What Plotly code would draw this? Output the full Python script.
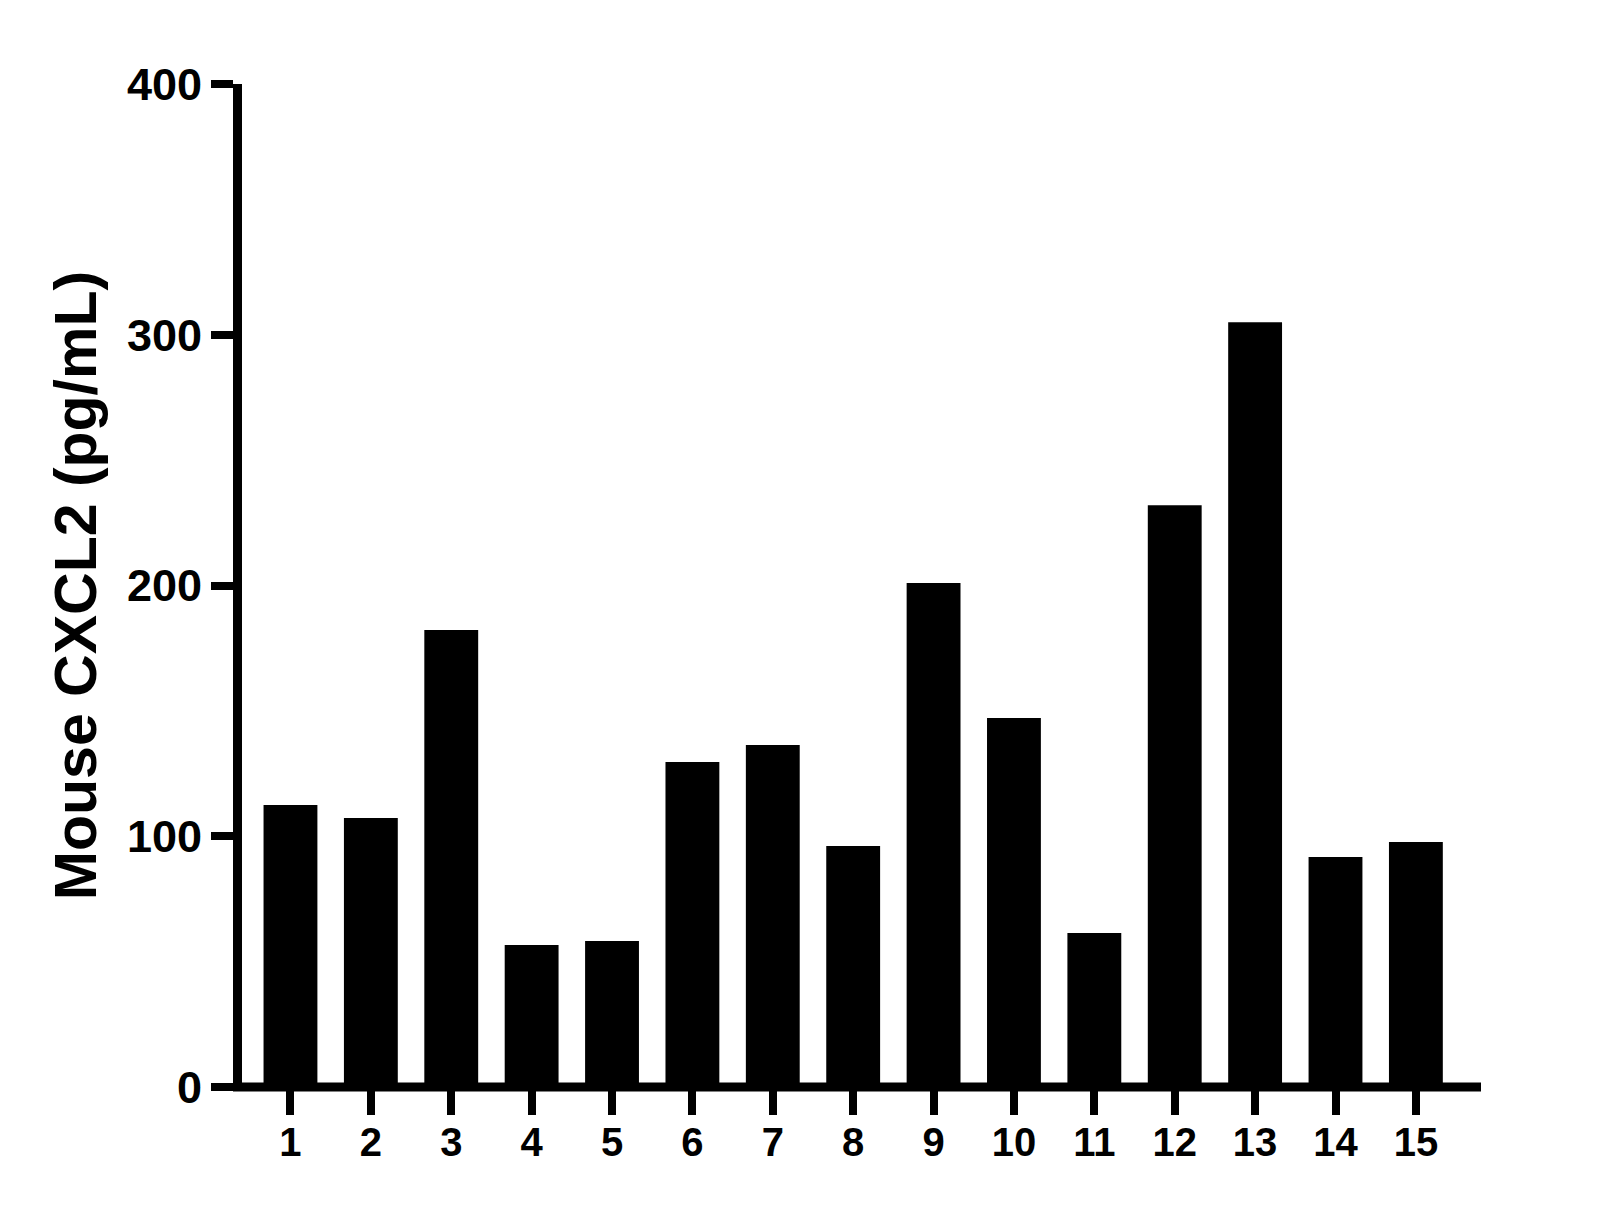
import plotly.graph_objects as go

# sample numbers and the measured CXCL2 levels (pg/mL)
samples = [str(i) for i in range(1, 16)]
cxcl2 = [112.5, 107.3, 182.3, 56.6, 58.2, 129.6, 136.4, 96.1,
         201.0, 147.2, 61.4, 232.0, 305.0, 91.7, 97.7]
y_ticks = [0, 100, 200, 300, 400]

FONT = 'Arial, "Liberation Sans", sans-serif'

fig = go.Figure()
fig.add_trace(go.Bar(x=list(range(1, 16)), y=cxcl2,
                     marker=dict(color='black', line=dict(width=0)),
                     width=0.67))

# page body has an 8px margin, so the figure is 16px smaller than the window
fig.update_layout(
    width=1595, height=1193,
    margin=dict(l=234, r=122, t=76, b=114),
    plot_bgcolor='white', paper_bgcolor='white',
    showlegend=False,
    font=dict(family=FONT, color='black'),
)
fig.update_xaxes(
    range=[0.397, 15.81],
    tickmode='array', tickvals=list(range(1, 16)), ticktext=samples,
    showline=False,
    ticks='outside', ticklen=27, tickwidth=8, tickcolor='black',
    tickfont=dict(size=40, weight='bold'),
    ticklabelstandoff=-7,
    showgrid=False, zeroline=False,
)
fig.update_yaxes(
    range=[0, 400],
    tickmode='array', tickvals=y_ticks,
    showline=True, linecolor='black', linewidth=9,
    ticks='outside', ticklen=22, tickwidth=8, tickcolor='black',
    tickfont=dict(size=45, weight='bold'),
    showgrid=False, zeroline=False,
    title=dict(text='Mouse CXCL2 (pg/mL)', font=dict(size=59, weight='bold'),
               standoff=15),
)

# x axis line centred on the plot bottom (y = 0), paper refs so it isn't clipped
fig.add_shape(type='line', xref='paper', yref='paper',
              x0=-9 / 1239, x1=1, y0=0, y1=0,
              line=dict(color='black', width=9), layer='above')

fig.write_html("out.html")
